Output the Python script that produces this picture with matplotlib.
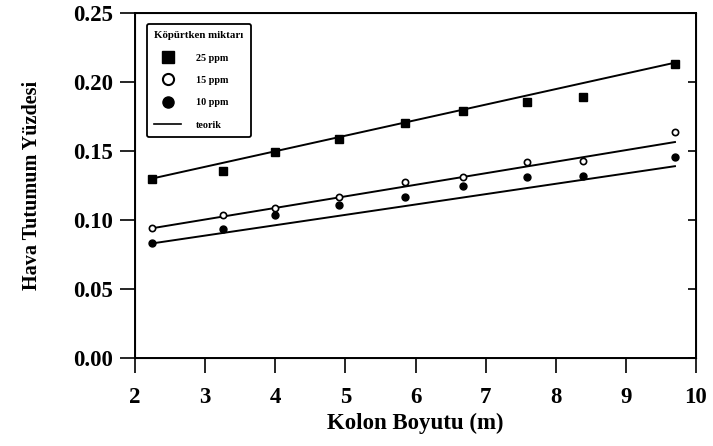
import matplotlib.pyplot as plt
from matplotlib.lines import Line2D

plt.rcParams['font.family'] = ['Liberation Serif', 'DejaVu Serif']

# kolon boyutu (m)
x = [2.24, 3.26, 4.0, 4.91, 5.85, 6.68, 7.59, 8.39, 9.70]

# hava tutumu, kopurtken miktarina gore
ppm25 = [0.130, 0.1355, 0.149, 0.1587, 0.170, 0.179, 0.1855, 0.189, 0.213]
ppm15 = [0.094, 0.1036, 0.109, 0.117, 0.1275, 0.131, 0.142, 0.143, 0.164]
ppm10 = [0.083, 0.0935, 0.1036, 0.111, 0.117, 0.1246, 0.131, 0.132, 0.1457]

# teorik dogrularin uc noktalari
trend_x = [2.24, 9.70]
trend25 = [0.130, 0.214]
trend15 = [0.094, 0.1565]
trend10 = [0.083, 0.139]

labels = ['25 ppm', '15 ppm', '10 ppm', 'teorik']
xticks = [2, 3, 4, 5, 6, 7, 8, 9, 10]
yticks = [0.00, 0.05, 0.10, 0.15, 0.20, 0.25]

fig = plt.figure(figsize=(7.13, 4.46), dpi=100)
ax = fig.add_axes([135/713, 88/446, 561/713, 345/446])

for ys in (trend25, trend15, trend10):
    ax.plot(trend_x, ys, color='black', lw=1.4)

ax.plot(x, ppm25, 's', color='black', ms=5.5, ls='none')
ax.plot(x, ppm15, 'o', mfc='white', mec='black', mew=1.2, ms=4.5, ls='none')
ax.plot(x, ppm10, 'o', color='black', ms=5, ls='none')

ax.set_xlim(2, 10)
ax.set_ylim(0, 0.25)
ax.set_xticks(xticks)
ax.set_yticks(yticks)
ax.set_xticklabels([str(t) for t in xticks], fontsize=16.5, fontweight='bold')
ax.set_yticklabels(['%.2f' % t for t in yticks], fontsize=16.5, fontweight='bold')
ax.tick_params(axis='both', direction='out', length=11, width=1.2)
ax.tick_params(axis='x', pad=10)
ax.tick_params(axis='y', pad=5)
for s in ax.spines.values():
    s.set_linewidth(1.4)

# sag kenardaki kucuk ic centikler
ax2 = ax.twinx()
ax2.set_ylim(0, 0.25)
ax2.set_yticks(yticks)
ax2.tick_params(direction='in', length=6, width=1.2, labelright=False)

ax.set_xlabel('Kolon Boyutu (m)', fontsize=16.5, fontweight='bold', labelpad=3)
ax.set_ylabel('Hava Tutumum Yüzdesi', fontsize=14.5, fontweight='bold', labelpad=22)

handles = [
    Line2D([], [], marker='s', color='black', ls='none', ms=8),
    Line2D([], [], marker='o', mfc='white', mec='black', mew=1.5, ls='none', ms=8),
    Line2D([], [], marker='o', color='black', ls='none', ms=8),
    Line2D([], [], color='black', lw=1.2),
]
leg = ax2.legend(handles, labels, title='Köpürtken miktarı', loc='upper left',
                 bbox_to_anchor=(0.022, 0.967), prop={'size': 7.3, 'weight': 'bold'},
                 title_fontproperties={'size': 7.8, 'weight': 'bold'},
                 fancybox=True, edgecolor='black', framealpha=1,
                 handlelength=2.6, handletextpad=1.5, labelspacing=1.3,
                 borderpad=0.7, borderaxespad=0, markerfirst=True)
leg.get_frame().set_linewidth(1.3)
leg._legend_box.align = 'left'

fig.savefig('out.png', dpi=100)
